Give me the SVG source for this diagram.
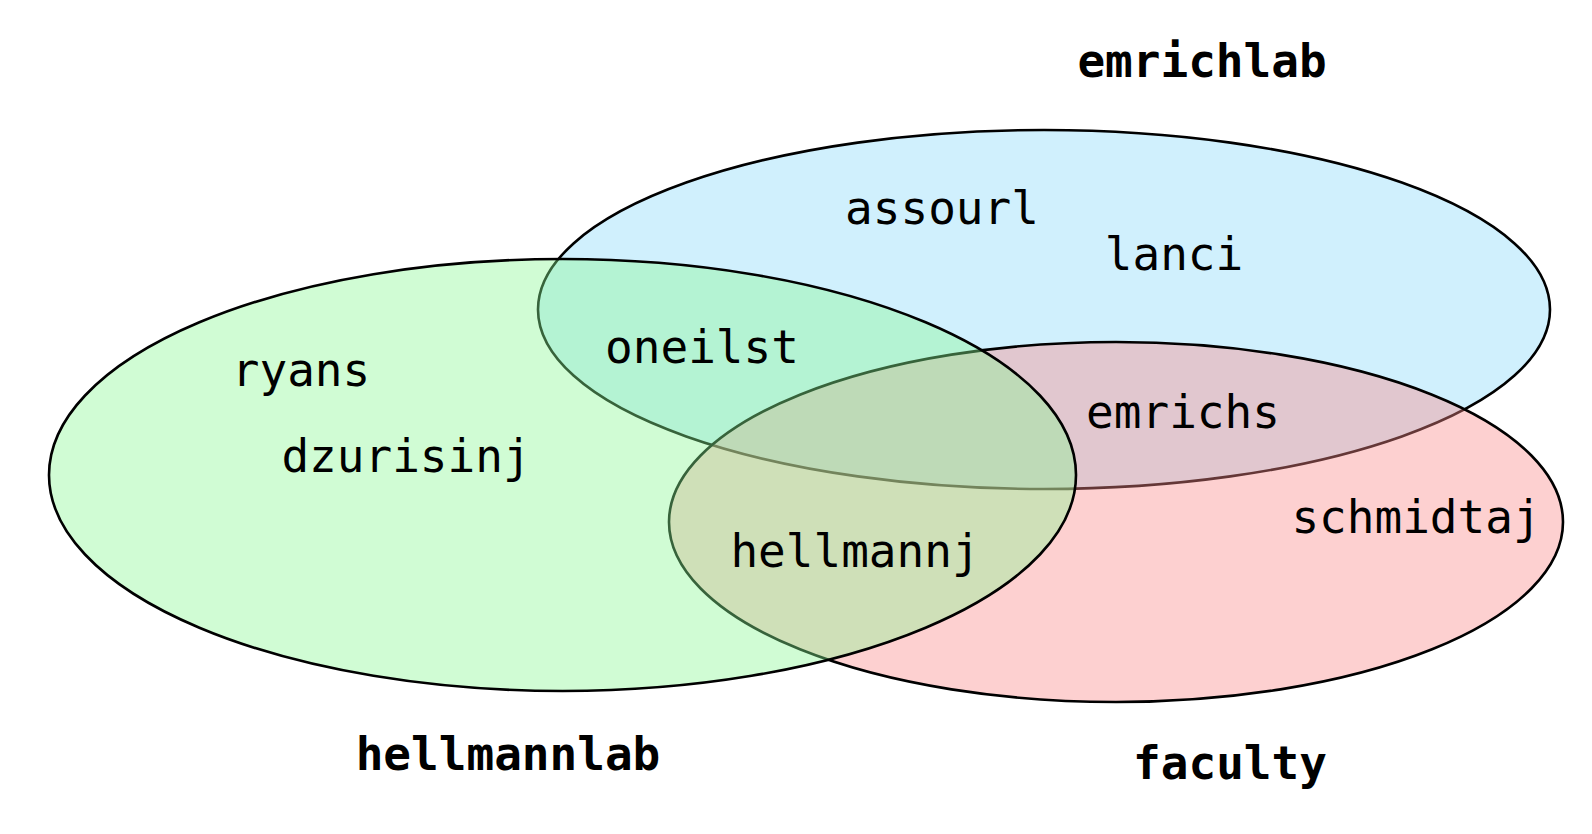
<svg xmlns="http://www.w3.org/2000/svg" width="1592" height="834" viewBox="0 0 1592 834">
<style>
.set{stroke:#000;stroke-width:2.6;}
.lbl{font-family:"DejaVu Sans Mono","Liberation Mono",monospace;font-size:46px;text-anchor:middle;fill:#000;}
.title{font-weight:bold;}
</style>
<rect width="1592" height="834" fill="#fff"/>
<g id="emrichlab">
<ellipse class="set" cx="1044" cy="309.5" rx="506" ry="179.5" fill="#8ad9fa" fill-opacity="0.4"/>
</g>
<g id="faculty">
<ellipse class="set" cx="1116" cy="522" rx="447" ry="180" fill="#fa8a8a" fill-opacity="0.4"/>
</g>
<g id="hellmannlab">
<ellipse class="set" cx="562.5" cy="475" rx="513.5" ry="216" fill="#8af894" fill-opacity="0.4"/>
</g>
<g id="connectors"></g>
<g id="labels">
<text class="lbl title" x="1202" y="77">emrichlab</text>
<text class="lbl title" x="508" y="770">hellmannlab</text>
<text class="lbl title" x="1230" y="779">faculty</text>
<text class="lbl" x="942" y="224">assourl</text>
<text class="lbl" x="1174" y="270">lanci</text>
<text class="lbl" x="702" y="363">oneilst</text>
<text class="lbl" x="301" y="386">ryans</text>
<text class="lbl" x="406" y="472">dzurisinj</text>
<text class="lbl" x="1183" y="428">emrichs</text>
<text class="lbl" x="1416" y="533">schmidtaj</text>
<text class="lbl" x="855" y="567">hellmannj</text>
</g>
</svg>
